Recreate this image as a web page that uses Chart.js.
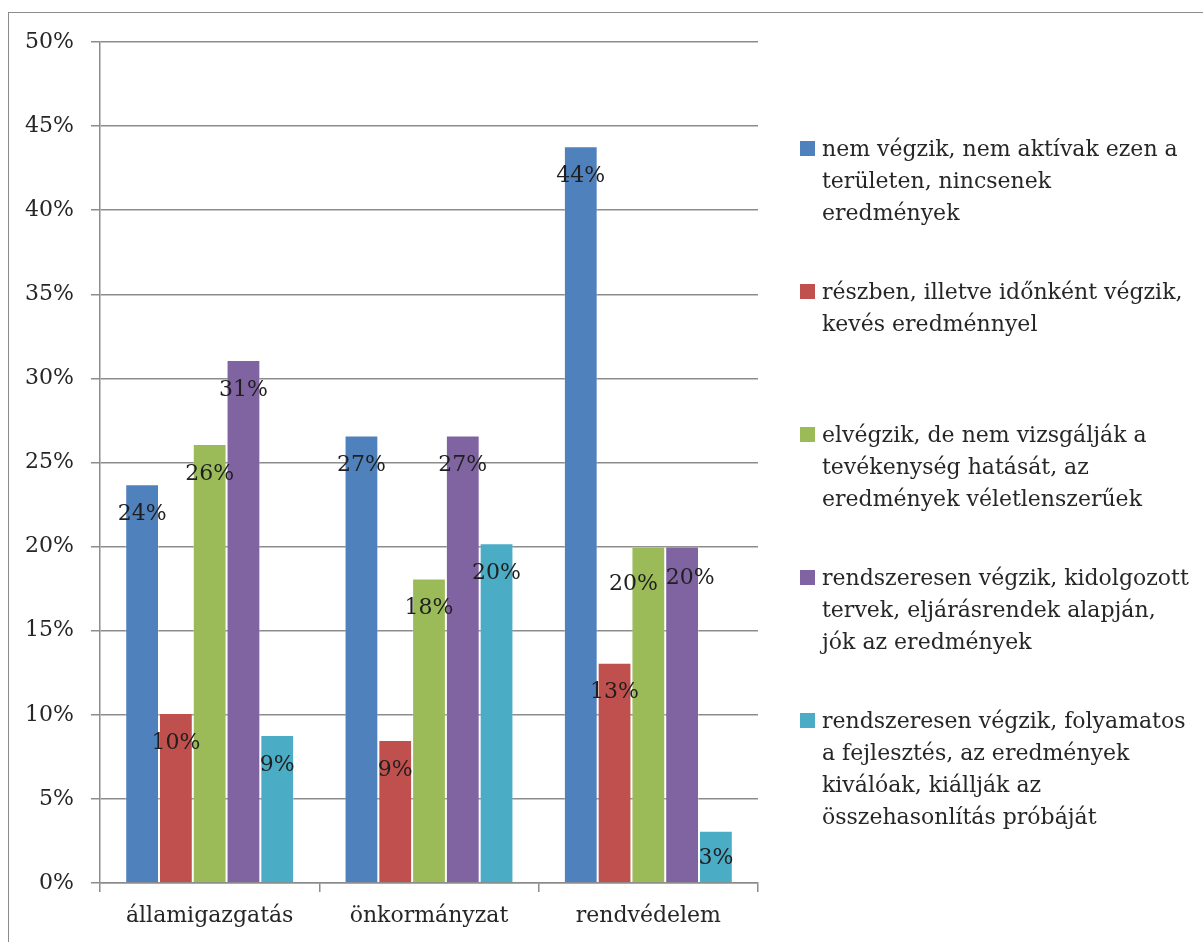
<!DOCTYPE html>
<html lang="hu">
<head>
<meta charset="utf-8">
<title>Tevékenységek értékelése ágazatonként</title>
<script src="https://cdn.jsdelivr.net/npm/chart.js@4.4.1/dist/chart.umd.min.js"></script>
<style>
  html, body { margin: 0; padding: 0; background: #ffffff; overflow: hidden; }
  body { width: 1203px; height: 942px; position: relative; font-family: "DejaVu Serif", serif; color: #262626; }
  #frame { position: absolute; left: 8px; top: 12px; width: 1400px; height: 1200px;
           border-left: 1.5px solid #8c8c8c; border-top: 1.5px solid #8c8c8c; }
  #chartBox { position: absolute; left: 0; top: 0; width: 1203px; height: 942px; }
  #legend { position: absolute; left: 800px; top: 0; width: 400px; }
  .item { position: absolute; left: 0; width: 400px; }
  .swatch { position: absolute; left: 0; width: 15px; height: 15px; }
  .text { position: absolute; left: 22px; font-size: 22px; line-height: 32px; white-space: nowrap; color: #262626; }
</style>
</head>
<body>
<div id="frame"></div>
<div id="chartBox"><canvas id="chart" width="1203" height="942"></canvas></div>
<div id="legend"></div>
<script>
// Ágazatok (kategóriák)
const categories = ['államigazgatás', 'önkormányzat', 'rendvédelem'];

// Válaszkategóriák (a jelmagyarázat sorai)
const seriesNames = [
  ['nem végzik, nem aktívak ezen a', 'területen, nincsenek', 'eredmények'],
  ['részben, illetve időnként végzik,', 'kevés eredménnyel'],
  ['elvégzik, de nem vizsgálják a', 'tevékenység hatását, az', 'eredmények véletlenszerűek'],
  ['rendszeresen végzik, kidolgozott', 'tervek, eljárásrendek alapján,', 'jók az eredmények'],
  ['rendszeresen végzik, folyamatos', 'a fejlesztés, az eredmények', 'kiválóak, kiállják az', 'összehasonlítás próbáját']
];

// Arányok százalékban, ágazatonként
const nemVegzik      = [23.7, 26.6, 43.8];
const reszben        = [10.1, 8.5, 13.1];
const elvegzik       = [26.1, 18.1, 20.0];
const kidolgozott    = [31.1, 26.6, 20.0];
const folyamatos     = [8.8, 20.2, 3.1];

// Y tengely: 0%–50%, 5%-os lépésekkel
const yMin = 0;
const yMax = 50;
const yStep = 5;

const seriesValues = [nemVegzik, reszben, elvegzik, kidolgozott, folyamatos];
const seriesColors = ['#4F81BD', '#C0504D', '#9BBB59', '#8064A2', '#4BACC6'];

const FONT = '"DejaVu Serif", "Liberation Serif", serif';
const GRID = '#8c8c8c';

// Értékcímkék az oszlopok tetején belül
const labelNudge = { '2-2': { dx: -15, dy: 8 }, '3-2': { dx: 8, dy: 2 }, '4-2': { dx: 0, dy: -3 } };
const valueLabels = {
  id: 'valueLabels',
  afterDatasetsDraw(chart) {
    const ctx = chart.ctx;
    ctx.save();
    ctx.font = '22px ' + FONT;
    ctx.fillStyle = '#1f1f1f';
    ctx.textAlign = 'center';
    ctx.textBaseline = 'middle';
    chart.data.datasets.forEach((ds, di) => {
      const meta = chart.getDatasetMeta(di);
      meta.data.forEach((bar, i) => {
        const n = labelNudge[di + '-' + i] || { dx: 0, dy: 0 };
        ctx.fillText(Math.round(ds.data[i]) + '%', bar.x + n.dx, bar.y + 30 + n.dy);
      });
    });
    ctx.restore();
  }
};

new Chart(document.getElementById('chart'), {
  type: 'bar',
  data: {
    labels: categories,
    datasets: seriesValues.map((vals, i) => ({
      label: seriesNames[i].join(' '),
      data: vals,
      backgroundColor: seriesColors[i],
      borderColor: 'rgba(255,255,255,0.25)',
      borderWidth: 1,
      borderSkipped: 'bottom',
      categoryPercentage: 0.77,
      barPercentage: 1.0
    }))
  },
  options: {
    responsive: false,
    animation: false,
    events: [],
    layout: { padding: { top: 42, right: 445, bottom: 0, left: 0 } },
    plugins: {
      legend: { display: false },
      tooltip: { enabled: false }
    },
    scales: {
      x: {
        grid: { display: true, drawOnChartArea: false, drawTicks: true, tickLength: 9, color: GRID, lineWidth: 1.5, offset: true },
        border: { display: true, color: GRID, width: 1.5 },
        ticks: { color: '#262626', font: { family: FONT, size: 22 }, padding: 11 },
        afterFit(scale) { scale.height = 59; }
      },
      y: {
        min: yMin,
        max: yMax,
        grid: { color: GRID, lineWidth: 1.5, tickLength: 9 },
        border: { display: true, color: GRID, width: 1.5 },
        ticks: {
          stepSize: yStep,
          color: '#262626',
          font: { family: FONT, size: 22 },
          padding: 17,
          callback: v => v + '%'
        },
        afterFit(scale) { scale.width = 100; }
      }
    }
  },
  plugins: [valueLabels]
});

// Jelmagyarázat
const legend = document.getElementById('legend');
seriesNames.forEach((lines, i) => {
  const item = document.createElement('div');
  item.className = 'item';
  item.style.top = (133 + 143 * i) + 'px';
  const sw = document.createElement('div');
  sw.className = 'swatch';
  sw.style.top = '8px';
  sw.style.background = seriesColors[i];
  const tx = document.createElement('div');
  tx.className = 'text';
  tx.style.top = '0px';
  tx.innerHTML = lines.map(l => l.replace(/&/g, '&amp;')).join('<br>');
  item.appendChild(sw);
  item.appendChild(tx);
  legend.appendChild(item);
});
</script>
</body>
</html>
